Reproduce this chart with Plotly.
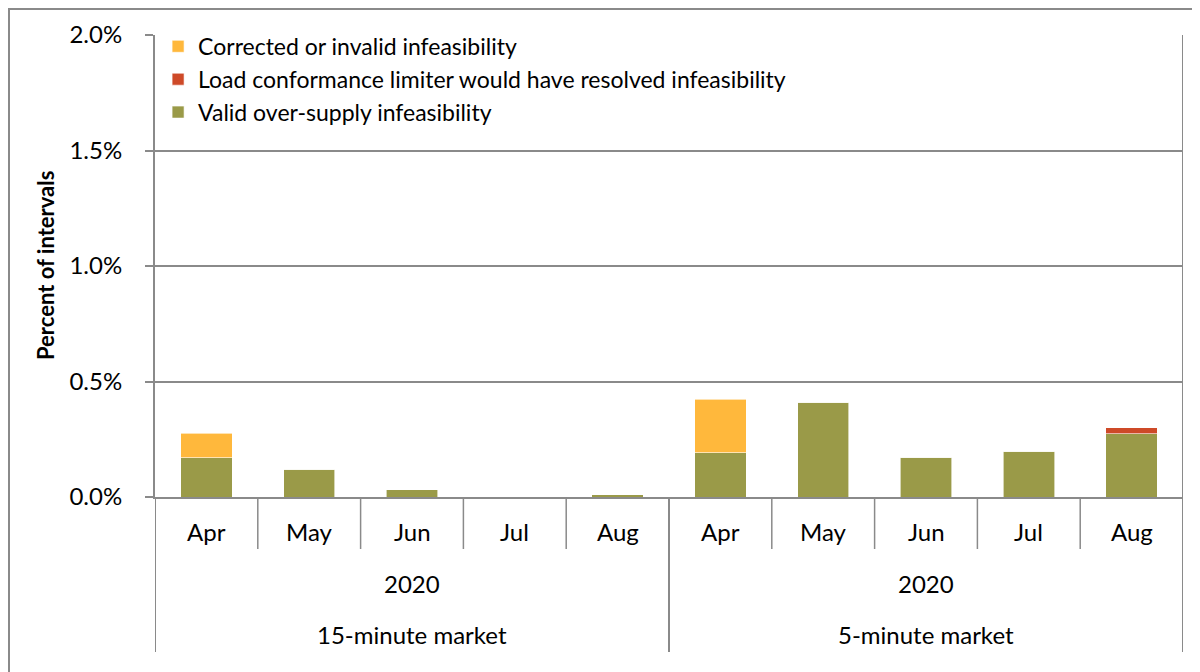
import plotly.graph_objects as go

months = ["Apr", "May", "Jun", "Jul", "Aug"]
years = ["2020", "2020"]
markets = ["15-minute market", "5-minute market"]

# values in percent of intervals (15-minute market months, then 5-minute market months)
valid_oversupply = [0.170, 0.120, 0.032, 0.0, 0.009, 0.192, 0.411, 0.172, 0.199, 0.274]
load_conformance = [0.0, 0.0, 0.0, 0.0, 0.0, 0.0, 0.0, 0.0, 0.0, 0.025]
corrected_invalid = [0.106, 0.0, 0.0, 0.0, 0.0, 0.232, 0.0, 0.0, 0.0, 0.0]

series_names = [
    "Valid over-supply infeasibility",
    "Load conformance limiter would have resolved infeasibility",
    "Corrected or invalid infeasibility",
]
series_colors = ["#9A9A48", "#CE4A28", "#FFB83C"]

y_ticks = [0.0, 0.5, 1.0, 1.5, 2.0]
y_tick_labels = ["0.0%", "0.5%", "1.0%", "1.5%", "2.0%"]

FONT = "Lato"
GRAY = "#8A8A8A"
FS = 24

W, H = 1192, 664
ML, MR, MT, MB = 147, 17, 27, 175
plot_w = W - ML - MR
plot_h = H - MT - MB

n_months = len(months)
x_pos = list(range(n_months * len(markets)))
month_labels = months * len(markets)

fig = go.Figure()
for name, vals, col in zip(series_names,
                           [valid_oversupply, load_conformance, corrected_invalid],
                           series_colors):
    fig.add_trace(go.Bar(
        x=x_pos, y=vals, name=name,
        marker=dict(color=col, line=dict(color="rgba(255,255,255,0.6)", width=1)),
        width=0.5,
    ))


def py(px):
    return -px / plot_h


annotations = []
for i, m in enumerate(month_labels):
    annotations.append(dict(x=x_pos[i], y=py(34), xref="x", yref="paper", text=m,
                            showarrow=False, font=dict(family=FONT, size=FS, color="#000"),
                            yanchor="middle", xanchor="center"))
for g in range(len(markets)):
    cx = g * n_months + (n_months - 1) / 2
    annotations.append(dict(x=cx, y=py(86), xref="x", yref="paper", text=years[g],
                            showarrow=False, font=dict(family=FONT, size=FS, color="#000"),
                            yanchor="middle"))
    annotations.append(dict(x=cx, y=py(137), xref="x", yref="paper", text=markets[g],
                            showarrow=False, font=dict(family=FONT, size=FS, color="#000"),
                            yanchor="middle"))

annotations.append(dict(x=-110 / plot_w, y=0.5, xref="paper", yref="paper",
                        text="<b>Percent of intervals</b>", textangle=-90, showarrow=False,
                        font=dict(family=FONT, size=22, color="#000"),
                        xanchor="center", yanchor="middle"))

shapes = []
# month dividers
for g in range(len(markets)):
    for k in range(1, n_months):
        xv = g * n_months + k - 0.5
        shapes.append(dict(type="line", xref="x", yref="paper", x0=xv, x1=xv,
                           y0=0, y1=py(52), line=dict(color=GRAY, width=1.5)))
# group dividers
for g in range(len(markets) + 1):
    xv = g * n_months - 0.5
    shapes.append(dict(type="line", xref="x", yref="paper", x0=xv, x1=xv,
                       y0=0, y1=py(155), line=dict(color=GRAY, width=2)))
# right plot border
shapes.append(dict(type="line", xref="x", yref="paper", x0=len(x_pos) - 0.5, x1=len(x_pos) - 0.5,
                   y0=0, y1=1, line=dict(color=GRAY, width=2)))
# outer chart border
shapes.append(dict(type="rect", xref="paper", yref="paper",
                   x0=(-ML + 1) / plot_w, x1=1.1, y0=-(MB + 20) / plot_h, y1=1 + (MT - 1) / plot_h,
                   line=dict(color=GRAY, width=2), fillcolor="rgba(0,0,0,0)", layer="below"))

fig.update_layout(
    width=W, height=H,
    margin=dict(l=ML, r=MR, t=MT, b=MB),
    barmode="stack",
    paper_bgcolor="white", plot_bgcolor="white",
    font=dict(family=FONT, size=FS, color="#000"),
    legend=dict(x=0.003, y=1.022, xanchor="left", yanchor="top",
                traceorder="reversed", bgcolor="rgba(0,0,0,0)",
                font=dict(family=FONT, size=23, color="#000"), tracegroupgap=0),
    xaxis=dict(range=[-0.5, len(x_pos) - 0.5], showticklabels=False, ticks="",
               showgrid=False, showline=True, linecolor=GRAY, linewidth=2, zeroline=False),
    yaxis=dict(range=[0, 2.0], tickvals=y_ticks, ticktext=y_tick_labels,
               showgrid=True, gridcolor=GRAY, gridwidth=1.5, showline=True,
               linecolor=GRAY, linewidth=2, ticks="outside", ticklen=8, tickcolor=GRAY,
               tickwidth=1.5, zeroline=False, tickfont=dict(family=FONT, size=FS, color="#000"),
               ticklabelstandoff=18),
    annotations=annotations,
    shapes=shapes,
    showlegend=True,
)

fig.write_html("out.html")
